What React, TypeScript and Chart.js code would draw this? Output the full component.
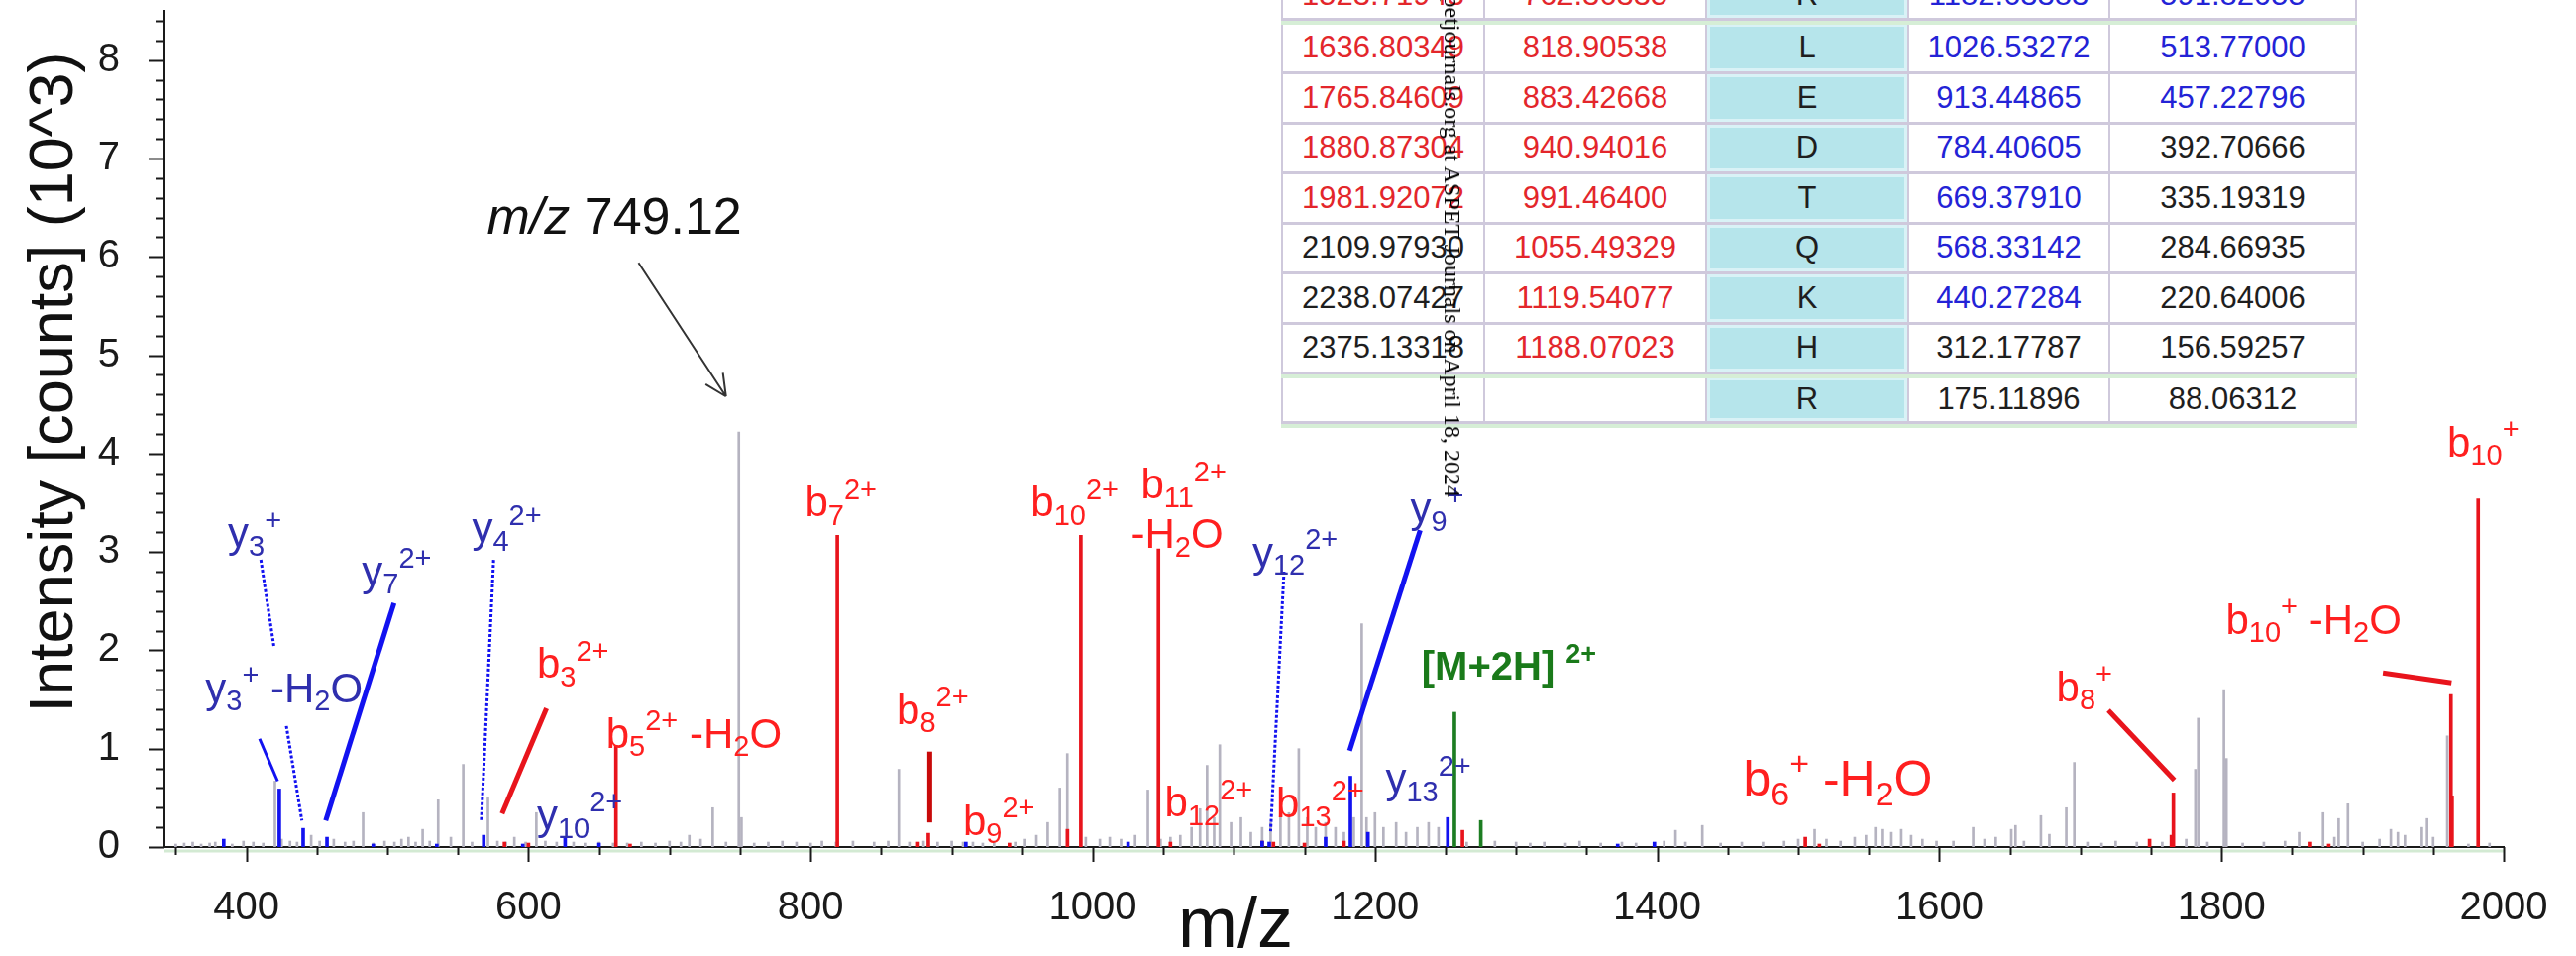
import React, { useEffect, useRef } from 'react';
import { Chart, registerables } from 'chart.js';
Chart.register(...registerables);

// ---------------- data ----------------
const X_MIN = 342;
const X_MAX = 2000;
const Y_MAX = 8.5;
const xTickValues = [400, 600, 800, 1000, 1200, 1400, 1600, 1800, 2000];
const yTickValues = [0, 1, 2, 3, 4, 5, 6, 7, 8];

// unassigned (gray) peaks, m/z and intensity (10^3 counts)
const grayMz = [350, 356, 362, 368, 374, 378, 390, 398, 405, 412, 420.3, 425, 431, 436, 446, 452, 462, 470, 476, 482.8, 490, 498, 505, 510, 515, 520, 525, 530, 536, 545, 553.8, 560, 571.3, 578, 584, 590, 598, 605.6, 612, 620, 632, 640, 650, 660, 670, 680, 690, 700, 708, 714, 722, 730.6, 740, 749.1, 751, 760, 770, 780, 790, 800, 808, 818, 830, 845, 855, 862.5, 870, 880, 890, 900, 908, 915, 922, 930, 945, 952, 960, 968, 976.6, 981.9, 995, 1005, 1012, 1020, 1030, 1039, 1048, 1055, 1062, 1070, 1076, 1081, 1086, 1090, 1098, 1105, 1112, 1120, 1126, 1133, 1139, 1146, 1152, 1158, 1165, 1172, 1178, 1185, 1190.6, 1194, 1200, 1206, 1215, 1222, 1230, 1238, 1245, 1265, 1285, 1300, 1310, 1320, 1335, 1345, 1360, 1375, 1385, 1405, 1413, 1420, 1432, 1445, 1460, 1475, 1490, 1500, 1511.6, 1520, 1530, 1540, 1548, 1554.6, 1560, 1566, 1573, 1580, 1588, 1598, 1610, 1624, 1632, 1640, 1651, 1654, 1660, 1672, 1678, 1690, 1695.7, 1705, 1715, 1725, 1740, 1758, 1775, 1781.5, 1783.5, 1790, 1801.7, 1803.5, 1815, 1830, 1845, 1855, 1872, 1880, 1883, 1889.6, 1900, 1912, 1920, 1925, 1930, 1942, 1945.7, 1950, 1960, 1975, 1990];
const grayInt = [0.03, 0.04, 0.05, 0.03, 0.04, 0.05, 0.03, 0.06, 0.05, 0.04, 0.67, 0.08, 0.06, 0.05, 0.12, 0.06, 0.08, 0.05, 0.06, 0.35, 0.04, 0.06, 0.05, 0.08, 0.1, 0.05, 0.18, 0.06, 0.48, 0.1, 0.84, 0.05, 0.5, 0.06, 0.05, 0.1, 0.05, 0.35, 0.06, 0.05, 0.05, 0.04, 0.05, 0.04, 0.04, 0.05, 0.04, 0.06, 0.05, 0.12, 0.08, 0.4, 0.05, 4.22, 0.3, 0.04, 0.05, 0.06, 0.05, 0.04, 0.06, 0.05, 0.06, 0.05, 0.06, 0.79, 0.05, 0.06, 0.05, 0.06, 0.05, 0.05, 0.04, 0.06, 0.05, 0.08, 0.12, 0.25, 0.6, 0.95, 0.1, 0.08, 0.1, 0.08, 0.12, 0.58, 0.08, 0.1, 0.12, 0.2, 0.39, 0.83, 0.3, 1.04, 0.25, 0.3, 0.15, 0.2, 0.25, 0.3, 0.35, 1.0, 0.3, 0.2, 0.25, 0.2, 0.15, 0.3, 2.27, 0.3, 0.35, 0.2, 0.25, 0.15, 0.2, 0.25, 0.2, 0.05, 0.06, 0.05, 0.04, 0.05, 0.04, 0.06, 0.04, 0.05, 0.04, 0.06, 0.17, 0.05, 0.22, 0.04, 0.05, 0.05, 0.06, 0.08, 0.18, 0.08, 0.06, 0.1, 0.12, 0.2, 0.18, 0.15, 0.18, 0.12, 0.08, 0.06, 0.06, 0.2, 0.08, 0.1, 0.18, 0.22, 0.06, 0.32, 0.13, 0.4, 0.86, 0.05, 0.04, 0.06, 0.05, 0.05, 0.08, 0.79, 1.31, 0.05, 1.6, 0.9, 0.04, 0.05, 0.06, 0.15, 0.35, 0.1, 0.29, 0.44, 0.05, 0.08, 0.18, 0.15, 0.12, 0.2, 0.29, 0.1, 1.13, 0.03, 0.04];

// b-ion (red) peaks
const redMz = [583, 600, 662, 672, 818.9, 876, 883.4, 940.9, 982, 991.5, 1046.5, 1055, 1120, 1128, 1150, 1178, 1262, 1505, 1515, 1749, 1764.5, 1765.9, 1863, 1876, 1962.6, 1963.4, 1981.9];
const redInt = [0.05, 0.04, 1.03, 0.03, 3.17, 0.05, 0.14, 0.04, 0.18, 3.17, 3.03, 0.05, 0.06, 0.05, 0.04, 0.06, 0.17, 0.1, 0.03, 0.08, 0.12, 0.55, 0.05, 0.03, 1.55, 0.52, 3.54];

// y-ion (blue) peaks
const blueMz = [384, 423.4, 440.3, 457.2, 490, 535, 568.3, 596, 626, 650, 910, 1025, 1120, 1125, 1165, 1182.6, 1195, 1251.6, 1372, 1398];
const blueInt = [0.08, 0.59, 0.19, 0.1, 0.03, 0.03, 0.12, 0.03, 0.1, 0.04, 0.05, 0.05, 0.06, 0.05, 0.1, 0.72, 0.15, 0.3, 0.03, 0.05];

// precursor (green) peaks
const greenMz = [1256.3, 1275];
const greenInt = [1.37, 0.27];

// fragment table
const residues = ['R', 'L', 'E', 'D', 'T', 'Q', 'K', 'H', 'R'];
const bIons = ['1523.71943', '1636.80349', '1765.84609', '1880.87304', '1981.92072', '2109.97930', '2238.07427', '2375.13318', ''];
const b2Ions = ['762.36335', '818.90538', '883.42668', '940.94016', '991.46400', '1055.49329', '1119.54077', '1188.07023', ''];
const yIons = ['1182.63383', '1026.53272', '913.44865', '784.40605', '669.37910', '568.33142', '440.27284', '312.17787', '175.11896'];
const y2Ions = ['591.82055', '513.77000', '457.22796', '392.70666', '335.19319', '284.66935', '220.64006', '156.59257', '88.06312'];
const bMatched = [true, true, true, true, true, false, false, false, false];
const b2Matched = [true, true, true, true, true, true, true, true, false];
const yMatched = [true, true, true, true, true, true, true, false, false];
const y2Matched = [true, true, true, false, false, false, false, false, false];

// ---------------- styles ----------------
const GRAY = '#b5b3c0';
const RED = '#e8141c';
const DARKRED = '#c80a0a';
const BLUE = '#1212f0';
const GREEN = '#1d7d22';
const LRED = '#ff1f1f';
const LBLUE = '#2f2fae';
const LGREEN = '#1a7a1a';
const FONT = '"Liberation Sans", Arial, Helvetica, sans-serif';

type Seg = [string, 'n' | 'b' | 'p' | 'i' | 'g'];
interface Lbl { mz: number; v: number; color: string; parts: Seg[]; size?: number; bold?: boolean }

const H2O: Seg[] = [[' -H', 'n'], ['2', 'b'], ['O', 'n']];
const peakLabels: Lbl[] = [
  { mz: 387, v: 3.05, color: LBLUE, parts: [['y', 'n'], ['3', 'b'], ['+', 'p']] },
  { mz: 371, v: 1.47, color: LBLUE, parts: [['y', 'n'], ['3', 'b'], ['+', 'p'], ...H2O] },
  { mz: 482, v: 2.66, color: LBLUE, parts: [['y', 'n'], ['7', 'b'], ['2+', 'p']] },
  { mz: 560, v: 3.1, color: LBLUE, parts: [['y', 'n'], ['4', 'b'], ['2+', 'p']] },
  { mz: 606, v: 1.72, color: LRED, parts: [['b', 'n'], ['3', 'b'], ['2+', 'p']] },
  { mz: 655, v: 1.01, color: LRED, parts: [['b', 'n'], ['5', 'b'], ['2+', 'p'], ...H2O] },
  { mz: 606, v: 0.18, color: LBLUE, parts: [['y', 'n'], ['10', 'b'], ['2+', 'p']] },
  { mz: 796, v: 3.36, color: LRED, parts: [['b', 'n'], ['7', 'b'], ['2+', 'p']] },
  { mz: 956, v: 3.36, color: LRED, parts: [['b', 'n'], ['10', 'b'], ['2+', 'p']] },
  { mz: 1034, v: 3.54, color: LRED, parts: [['b', 'n'], ['11', 'b'], ['2+', 'p']] },
  { mz: 1027, v: 3.04, color: LRED, parts: [['-H', 'n'], ['2', 'b'], ['O', 'n']] },
  { mz: 1113, v: 2.85, color: LBLUE, parts: [['y', 'n'], ['12', 'b'], ['2+', 'p']] },
  { mz: 1225, v: 3.3, color: LBLUE, parts: [['y', 'n'], ['9', 'b'], ['+', 'p']] },
  { mz: 861, v: 1.25, color: LRED, parts: [['b', 'n'], ['8', 'b'], ['2+', 'p']] },
  { mz: 908, v: 0.12, color: LRED, parts: [['b', 'n'], ['9', 'b'], ['2+', 'p']] },
  { mz: 1051, v: 0.31, color: LRED, parts: [['b', 'n'], ['12', 'b'], ['2+', 'p']] },
  { mz: 1130, v: 0.3, color: LRED, parts: [['b', 'n'], ['13', 'b'], ['2+', 'p']] },
  { mz: 1207.5, v: 0.55, color: LBLUE, parts: [['y', 'n'], ['13', 'b'], ['2+', 'p']] },
  { mz: 1233, v: 1.7, color: LGREEN, bold: true, size: 40, parts: [['[M+2H]', 'n'], [' ', 'g'], ['2+', 'p']] },
  { mz: 1461, v: 0.52, color: LRED, size: 50, parts: [['b', 'n'], ['6', 'b'], ['+', 'p'], ...H2O] },
  { mz: 1683, v: 1.48, color: LRED, parts: [['b', 'n'], ['8', 'b'], ['+', 'p']] },
  { mz: 1803, v: 2.17, color: LRED, parts: [['b', 'n'], ['10', 'b'], ['+', 'p'], ...H2O] },
  { mz: 1960, v: 3.97, color: LRED, parts: [['b', 'n'], ['10', 'b'], ['+', 'p']] },
  { mz: 570.6, v: 6.23, color: '#111', size: 52, parts: [['m/z', 'i'], [' 749.12', 'n']] },
];

interface Lead { a: [number, number]; b: [number, number]; color: string; w: number; dash?: number[] }
const leaders: Lead[] = [
  { a: [410.3, 2.92], b: [419.7, 2.03], color: BLUE, w: 3, dash: [3, 2] },
  { a: [409.4, 1.1], b: [422.2, 0.67], color: BLUE, w: 3 },
  { a: [428.4, 1.23], b: [439.4, 0.27], color: BLUE, w: 3, dash: [3, 2] },
  { a: [504.7, 2.48], b: [456.3, 0.27], color: BLUE, w: 5 },
  { a: [575.3, 2.92], b: [566.6, 0.27], color: BLUE, w: 3, dash: [3, 2] },
  { a: [612.8, 1.41], b: [581.3, 0.34], color: RED, w: 5 },
  { a: [884.4, 0.97], b: [884.4, 0.25], color: DARKRED, w: 5 },
  { a: [1135.5, 2.8], b: [1126, 0.16], color: BLUE, w: 3, dash: [3, 2] },
  { a: [1232, 3.22], b: [1182, 0.98], color: BLUE, w: 5 },
  { a: [1719.8, 1.39], b: [1766.6, 0.68], color: RED, w: 5 },
  { a: [1914.4, 1.77], b: [1963, 1.67], color: RED, w: 5 },
];
const arrowFrom: [number, number] = [678, 5.94];
const arrowTo: [number, number] = [740, 4.58];

function drawRich(ctx: CanvasRenderingContext2D, x: number, y: number, l: Lbl) {
  const size = l.size ?? 42;
  const small = Math.round(size * 0.68);
  let cx = x;
  ctx.fillStyle = l.color;
  ctx.textAlign = 'left';
  ctx.textBaseline = 'alphabetic';
  for (const [t, k] of l.parts) {
    const fs = k === 'b' || k === 'p' ? small : size;
    const st = k === 'i' ? 'italic ' : '';
    ctx.font = `${st}${l.bold ? 'bold ' : ''}${fs}px ${FONT}`;
    const dy = k === 'b' ? size * 0.2 : k === 'p' ? -size * 0.42 : 0;
    if (k !== 'g') ctx.fillText(t, cx, y + dy);
    cx += ctx.measureText(t).width;
  }
}

const annotate = {
  id: 'annotate',
  afterDatasetsDraw(chart: any) {
    const { ctx, scales } = chart;
    const X = (v: number) => scales.x.getPixelForValue(v);
    const Y = (v: number) => scales.y.getPixelForValue(v);
    ctx.save();
    ctx.lineCap = 'butt';
    for (const ld of leaders) {
      ctx.strokeStyle = ld.color;
      ctx.lineWidth = ld.w;
      ctx.setLineDash(ld.dash ?? []);
      ctx.beginPath();
      ctx.moveTo(X(ld.a[0]), Y(ld.a[1]));
      ctx.lineTo(X(ld.b[0]), Y(ld.b[1]));
      ctx.stroke();
    }
    ctx.setLineDash([]);
    const x1 = X(arrowFrom[0]), y1 = Y(arrowFrom[1]), x2 = X(arrowTo[0]), y2 = Y(arrowTo[1]);
    ctx.strokeStyle = '#333';
    ctx.lineWidth = 2;
    ctx.beginPath();
    ctx.moveTo(x1, y1);
    ctx.lineTo(x2, y2);
    const ang = Math.atan2(y2 - y1, x2 - x1);
    for (const s of [-1, 1]) {
      ctx.moveTo(x2, y2);
      ctx.lineTo(x2 - 24 * Math.cos(ang + s * 0.45), y2 - 24 * Math.sin(ang + s * 0.45));
    }
    ctx.stroke();
    for (const l of peakLabels) drawRich(ctx, X(l.mz), Y(l.v), l);
    ctx.restore();
  },
  afterDraw(chart: any) {
    const { ctx, scales, chartArea } = chart;
    const xs = scales.x, ys = scales.y;
    ctx.save();
    // faint green rule under the baseline
    ctx.strokeStyle = '#d3ead3';
    ctx.lineWidth = 3;
    ctx.beginPath();
    ctx.moveTo(chartArea.left, chartArea.bottom + 4);
    ctx.lineTo(chartArea.right, chartArea.bottom + 4);
    ctx.stroke();
    ctx.strokeStyle = '#1a1a1a';
    ctx.lineWidth = 2;
    ctx.beginPath();
    for (let v = 350; v <= X_MAX; v += 50) {
      const px = Math.round(xs.getPixelForValue(v)) + 0.5;
      const len = v % 200 === 0 ? 15 : 8;
      ctx.moveTo(px, chartArea.bottom);
      ctx.lineTo(px, chartArea.bottom + len);
    }
    for (let k = 0; k <= 42; k++) {
      const py = Math.round(ys.getPixelForValue(k * 0.2)) + 0.5;
      const len = k % 5 === 0 ? 16 : 9;
      ctx.moveTo(chartArea.left - len, py);
      ctx.lineTo(chartArea.left, py);
    }
    ctx.stroke();
    ctx.fillStyle = '#111';
    ctx.font = `63px ${FONT}`;
    ctx.textAlign = 'center';
    ctx.textBaseline = 'middle';
    ctx.translate(56, 386);
    ctx.rotate(-Math.PI / 2);
    ctx.fillText('Intensity [counts] (10^3)', 0, 0);
    ctx.restore();
    ctx.save();
    ctx.fillStyle = '#111';
    ctx.font = `72px ${FONT}`;
    ctx.textAlign = 'center';
    ctx.textBaseline = 'alphabetic';
    ctx.fillText('m/z', 1247, 956);
    ctx.restore();
  },
};

function bars(mz: number[], it: number[], color: string, w: number, order: number) {
  return {
    type: 'bar' as const,
    data: mz.map((m, i) => ({ x: m, y: it[i] })),
    backgroundColor: color,
    borderWidth: 0,
    barThickness: w,
    grouped: false,
    order,
  };
}

function SpectrumChart() {
  const ref = useRef<HTMLCanvasElement>(null);
  useEffect(() => {
    if (!ref.current) return;
    const chart = new Chart(ref.current, {
      type: 'bar',
      data: {
        datasets: [
          bars(greenMz, greenInt, GREEN, 3, 1),
          bars(blueMz, blueInt, BLUE, 3, 2),
          bars(redMz, redInt, RED, 3, 3),
          bars(grayMz, grayInt, GRAY, 2, 10),
        ] as any,
      },
      options: {
        animation: false,
        responsive: false,
        maintainAspectRatio: false,
        layout: { padding: { top: 11, right: 73, left: 0, bottom: 0 } },
        plugins: { legend: { display: false }, tooltip: { enabled: false } },
        scales: {
          x: {
            type: 'linear',
            offset: false,
            min: X_MIN,
            max: X_MAX,
            afterFit: (s: any) => { s.height = 110; s.paddingLeft = 0; s.paddingRight = 0; },
            afterBuildTicks: (s: any) => { s.ticks = xTickValues.map((v) => ({ value: v })); },
            grid: { display: false, drawTicks: false, offset: false },
            border: { display: true, color: '#1a1a1a', width: 2 },
            ticks: { color: '#1a1a1a', font: { family: FONT, size: 40 }, padding: 38, maxRotation: 0, autoSkip: false, callback: (v: any) => String(v) },
          },
          y: {
            type: 'linear',
            min: 0,
            max: Y_MAX,
            afterFit: (s: any) => { s.width = 166; s.paddingTop = 0; s.paddingBottom = 0; },
            afterBuildTicks: (s: any) => { s.ticks = yTickValues.map((v) => ({ value: v })); },
            grid: { display: false, drawTicks: false },
            border: { display: true, color: '#1a1a1a', width: 2 },
            ticks: { color: '#1a1a1a', font: { family: FONT, size: 40 }, padding: 45, autoSkip: false, callback: (v: any) => String(v) },
          },
        },
      } as any,
      plugins: [annotate],
    });
    return () => chart.destroy();
  }, []);
  return <canvas ref={ref} width={2600} height={965} style={{ position: 'absolute', left: 0, top: 0, width: 2600, height: 965 }} />;
}

const colW = [206, 224, 204, 203, 249];
const rowTop = [-29, 24, 75, 125.5, 176, 226.5, 277, 327.5, 381];
const rowH = [50, 51, 50.5, 50.5, 50.5, 50.5, 50.5, 50.5, 47];

function FragmentTable() {
  const cellBase: React.CSSProperties = {
    position: 'absolute', display: 'flex', alignItems: 'center', justifyContent: 'center',
    boxSizing: 'border-box', borderRight: '2px solid #cfc9dc', borderBottom: '3px solid #cfc9dc',
    font: `31px ${FONT}`, whiteSpace: 'nowrap',
  };
  const lefts = colW.map((_, i) => colW.slice(0, i).reduce((a, b) => a + b, 0));
  const cells: React.ReactNode[] = [];
  residues.forEach((res, r) => {
    const vals = [bIons[r], b2Ions[r], res, yIons[r], y2Ions[r]];
    const cols = [
      bMatched[r] ? '#e3262b' : '#1e1e1e',
      b2Matched[r] ? '#e3262b' : '#1e1e1e',
      '#1e1e1e',
      yMatched[r] ? '#2323d6' : '#1e1e1e',
      y2Matched[r] ? '#2323d6' : '#1e1e1e',
    ];
    vals.forEach((v, c) => {
      const cyan = c === 2;
      cells.push(
        <div key={`${r}-${c}`} style={{
          ...cellBase, left: lefts[c], top: rowTop[r], width: colW[c], height: rowH[r], color: cols[c],
          borderLeft: c === 0 ? '2px solid #cfc9dc' : undefined,
          background: cyan ? '#b6e5eb' : '#ffffff',
          boxShadow: cyan ? 'inset 0 0 0 3px #d9f2f6' : undefined,
        }}>{v}</div>,
      );
    });
  });
  const greenLines = [21, 378, 428];
  return (
    <div style={{ position: 'absolute', left: 1293, top: 0, width: 1086, height: 440 }}>
      {cells}
      {greenLines.map((y, i) => (
        <div key={`g${i}`} style={{ position: 'absolute', left: 0, top: y, width: 1086, height: 4, background: '#d6eed6' }} />
      ))}
    </div>
  );
}

function Watermark() {
  return (
    <div style={{
      position: 'absolute', left: 1480, top: 502, transformOrigin: '0 0',
      transform: 'rotate(90deg) translateX(-100%)', whiteSpace: 'nowrap',
      font: '24px "Liberation Serif", "Times New Roman", serif', color: '#000', lineHeight: '28px',
    }}>Downloaded from jpet.aspetjournals.org at ASPET Journals on April 18, 2024</div>
  );
}

export default function App() {
  return (
    <div style={{ position: 'relative', width: 2600, height: 965, overflow: 'hidden', background: '#fff' }}>
      <style>{'body{margin:0;background:#fff}'}</style>
      <SpectrumChart />
      <FragmentTable />
      <Watermark />
    </div>
  );
}
